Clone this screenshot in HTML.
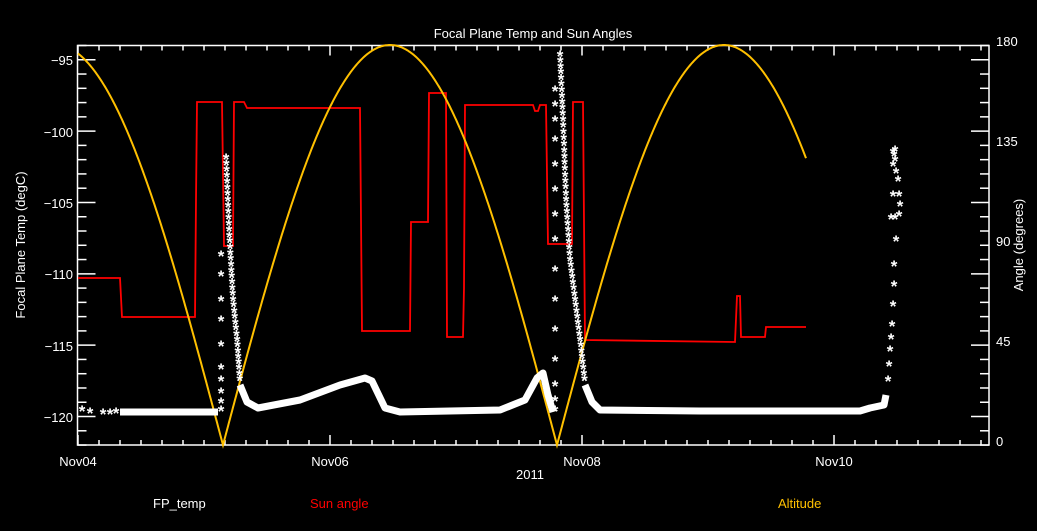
<!DOCTYPE html>
<html><head><meta charset="utf-8"><style>
html,body{margin:0;padding:0;background:#000;width:1037px;height:531px;overflow:hidden}
svg{display:block}
text{font-family:"Liberation Sans",sans-serif;fill:#fff;font-size:13px}
</style></head><body>
<svg id="s" width="1037" height="531" xmlns="http://www.w3.org/2000/svg">
<text x="533" y="38" text-anchor="middle" font-size="14">Focal Plane Temp and Sun Angles</text>
<g id="ax" stroke="#fff" stroke-width="1.5" fill="none"></g>
<g font-size="13">
<text x="73" y="65" text-anchor="end">−95</text>
<text x="73" y="137" text-anchor="end">−100</text>
<text x="73" y="208" text-anchor="end">−105</text>
<text x="73" y="279" text-anchor="end">−110</text>
<text x="73" y="351" text-anchor="end">−115</text>
<text x="73" y="422" text-anchor="end">−120</text>
<text x="996" y="46">180</text>
<text x="996" y="146">135</text>
<text x="996" y="246">90</text>
<text x="996" y="346">45</text>
<text x="996" y="446">0</text>
<text x="78" y="466" text-anchor="middle">Nov04</text>
<text x="330" y="466" text-anchor="middle">Nov06</text>
<text x="582" y="466" text-anchor="middle">Nov08</text>
<text x="834" y="466" text-anchor="middle">Nov10</text>
<text x="530" y="479" text-anchor="middle">2011</text>
<text x="153" y="508">FP_temp</text>
<text x="310" y="508" style="fill:#ff0000">Sun angle</text>
<text x="778" y="508" style="fill:#ffc000">Altitude</text>
<text transform="translate(25,245) rotate(-90)" text-anchor="middle">Focal Plane Temp (degC)</text>
<text transform="translate(1023,245) rotate(-90)" text-anchor="middle">Angle (degrees)</text>
</g>
<polyline fill="none" stroke="#ff0000" stroke-width="1.8" points="78,278 120,278 122,317 195,317 196,200 197,102 222,102 224,246 233,246 234,102 244,102 247,108 360,108 362,331 410,331 411,222 428,222 429,93 446,93 447,337 463,337 464,288 465,105 533,105 535,111 538,111 540,105 546,105 548,244 572,244 573,102 583,102 585,340 735,342 737,296 740,296 741,337 765,337 766,327 806,327"/>
<polyline id="alt" fill="none" stroke="#ffc000" stroke-width="2"/>
<g id="tmp" fill="none" stroke="#fff" stroke-width="7" stroke-linejoin="round">
<polyline points="120,412 218,412"/>
<polyline points="240,385 247,402 258,408 300,400 340,385 365,378 372,381 385,408 400,412 500,410 525,400 537,378 543,373 548,395 553,412"/>
<polyline points="585,385 592,402 600,410 700,411 860,411 870,408 884,405 886,395"/>
</g>
<g id="stars" fill="#fff" text-anchor="middle"></g>
</svg>
<script>
var s="http://www.w3.org/2000/svg";
var ax=document.getElementById("ax");
function L(x1,y1,x2,y2){var l=document.createElementNS(s,"line");l.setAttribute("x1",x1);l.setAttribute("y1",y1);l.setAttribute("x2",x2);l.setAttribute("y2",y2);ax.appendChild(l);}
var X0=77.5,X1=989,Y0=45.5,Y1=445;
var r=document.createElementNS(s,"rect");r.setAttribute("x",X0);r.setAttribute("y",Y0);r.setAttribute("width",X1-X0);r.setAttribute("height",Y1-Y0);ax.appendChild(r);
for(var x=78;x<X1;x+=21){var maj=((Math.round((x-78)/21))%12==0);var h=maj?10:5;L(x,Y1,x,Y1-h);L(x,Y0,x,Y0+h);}
for(var v=-94;v>=-122;v--){var y=45.5+(-94-v)*14.27;var maj=(v%5==0);var h=maj?18:9;L(X0,y,X0+h,y);L(X1,y,X1-h,y);}
var pts=[];for(var x=78;x<=806;x+=1){var a=180*Math.abs(Math.cos(Math.PI*(x-390)/334));pts.push(x+","+(445-a*400/180).toFixed(1));}
document.getElementById("alt").setAttribute("points",pts.join(" "));
var st=document.getElementById("stars");
function S(x,y){var t=document.createElementNS(s,"text");t.setAttribute("x",x);t.setAttribute("y",y+7);t.textContent="*";t.setAttribute("style","fill:#fff;font-size:17px;font-weight:bold");st.appendChild(t);}
[[82,410],[90,412],[103,413],[110,413],[116,412]].forEach(function(p){S(p[0],p[1]);});
[255,275,300,320,345,368,380,392,402,410].forEach(function(y){S(221,y);});
function col(pts,step){for(var i=0;i<pts.length-1;i++){var a=pts[i],b=pts[i+1];var n=Math.max(1,Math.round(Math.abs(b[1]-a[1])/step));for(var k=0;k<n;k++){var t=k/n;S(a[0]+(b[0]-a[0])*t,a[1]+(b[1]-a[1])*t);}}}
col([[226,158],[229,230],[233,300],[237,340],[240,385]],6);
[90,105,120,140,165,190,215,240,270,300,330,360,385,400,410].forEach(function(y){S(555,y);});
col([[560,55],[563,120],[566,200],[570,260],[575,300],[580,340],[585,385]],6);
var tp=[[888,380],[889,365],[890,350],[891,338],[892,325],[893,305],[894,285],[894,265],[896,240],[895,218],[891,218],[899,215],[900,205],[899,195],[893,195],[898,180],[896,172],[893,165],[895,160],[894,155],[895,150],[893,152]];
tp.forEach(function(p){S(p[0],p[1]);});
</script>
</body></html>
